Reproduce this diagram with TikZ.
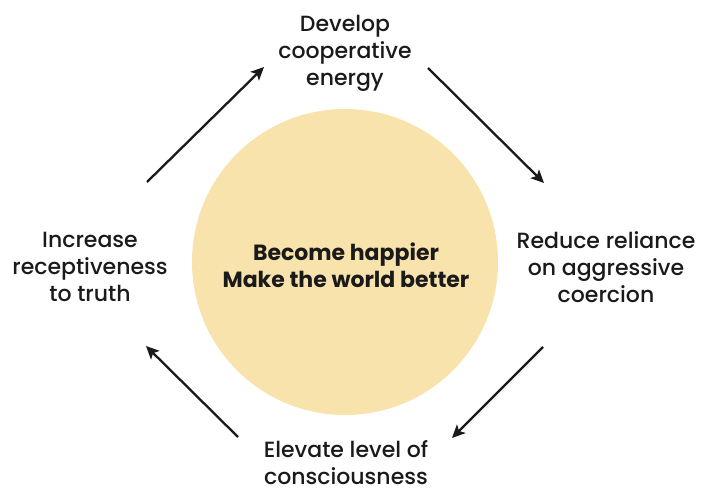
\documentclass[tikz,border=0pt]{standalone}
\usepackage{fontspec}
\setmainfont{Poppins}[UprightFont=* Medium, BoldFont=* Bold]
\usetikzlibrary{arrows.meta}
\definecolor{sun}{HTML}{F9E3AC}
\definecolor{ink}{HTML}{1A1A1A}
\tikzset{
  step text/.style={align=center, text=ink, font=\fontsize{22}{27}\selectfont, inner sep=0pt},
  cycle arrow/.style={ink, line width=2.3pt, -{Stealth[length=13pt,width=12pt,inset=3pt]}}
}

\begin{document}
\begin{tikzpicture}[x=1pt,y=-1pt]
\useasboundingbox (0,0) rectangle (709,500);

% the goal in the middle
\fill[sun] (345,262) circle (153);
\node[step text, font=\bfseries\fontsize{22}{27}\selectfont] (goal) at (346,265) {Become happier\\Make the world better};

% the four steps
\node[step text] (develop) at (345,53) {Develop\\cooperative\\energy};
\node[step text] (reduce) at (606,267) {Reduce reliance\\on aggressive\\coercion};
\node[step text] (elevate) at (346,463) {Elevate level of\\consciousness};
\node[step text] (increase) at (90,267) {Increase\\receptiveness\\to truth};

% arrow ends
\coordinate (a1) at (147,182); \coordinate (b1) at (264,67);
\coordinate (a2) at (428,68);  \coordinate (b2) at (544,183);
\coordinate (a3) at (543,347); \coordinate (b3) at (452,438);
\coordinate (a4) at (238,437); \coordinate (b4) at (146,346);

\draw[cycle arrow] (a1) -- (b1);
\draw[cycle arrow] (a2) -- (b2);
\draw[cycle arrow] (a3) -- (b3);
\draw[cycle arrow] (a4) -- (b4);

\end{tikzpicture}
\end{document}
